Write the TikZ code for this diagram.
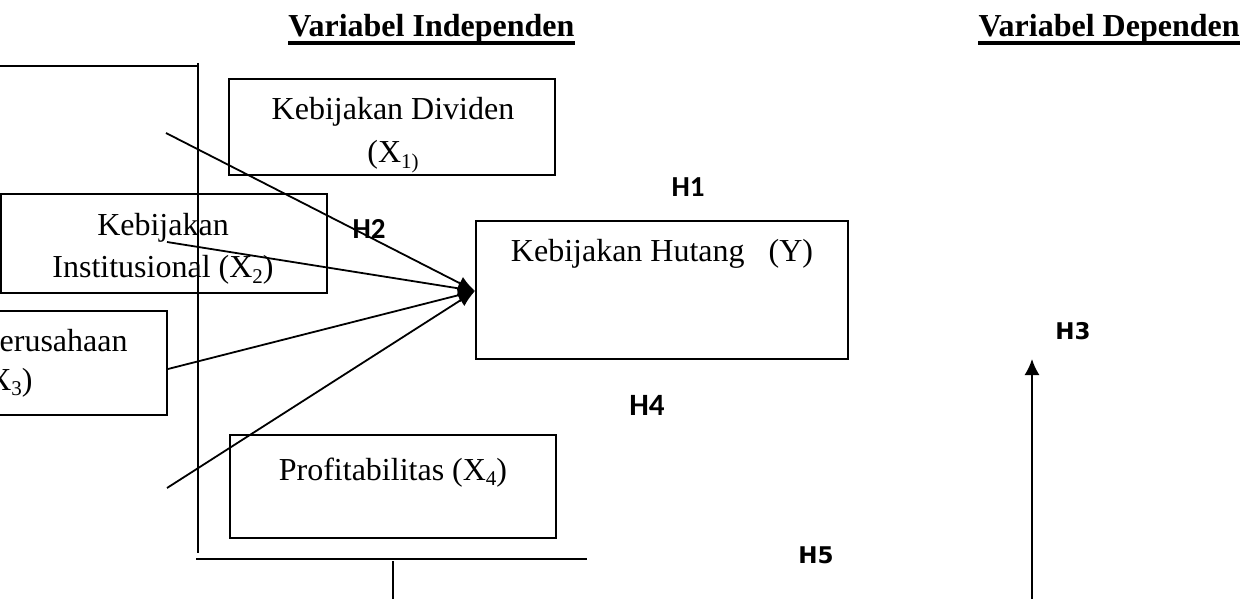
\documentclass[tikz,border=0pt]{standalone}
\usepackage{fontspec}
\setmainfont{Liberation Serif}
\newfontfamily\calfont{Carlito}
\newfontfamily\vfont{DejaVu Sans}
\usetikzlibrary{arrows.meta,calc}
\newcommand\mysub[1]{\raisebox{-0.18em}{\fontsize{10.5}{12}\selectfont #1}}
\begin{document}
\begin{tikzpicture}[x=0.5pt,y=-0.5pt,
  box/.style={draw, line width=1pt, inner sep=0pt, rectangle},
  txt/.style={anchor=base, inner sep=0pt, font=\fontsize{16}{19}\selectfont},
  head/.style={inner sep=0pt, font=\fontsize{16}{19}\selectfont\bfseries},
  hyp/.style={inner sep=0pt, font=\calfont\bfseries\fontsize{14.5}{16}\selectfont},
  hypb/.style={inner sep=0pt, font=\vfont\bfseries\fontsize{11.5}{13}\selectfont},
  conn/.style={line width=0.9pt, -{Latex[length=8.5pt,width=7pt]}},
  rulel/.style={line width=0.9pt}]
\useasboundingbox (0,0) rectangle (1244,599);
\clip (0,0) rectangle (1244,599);

% headings
\node[head, anchor=base west] (hi) at (288,37) {Variabel Independen};
\node[head, anchor=base east] (hd) at (1240,37) {Variabel Dependen};
\draw[line width=1.7pt] ($(hi.base west)+(0,6)$) -- ($(hi.base east)+(0,6)$);
\draw[line width=1.7pt] ($(hd.base west)+(0,6)$) -- ($(hd.base east)+(0,6)$);

% boxes
\node[box, minimum width=163pt, minimum height=48pt] (x1) at (392,127) {};
\node[box, minimum width=163pt, minimum height=49.5pt] (x2) at (164,243.5) {};
\node[box, minimum width=163pt, minimum height=52pt] (x3) at (4,363) {};
\node[box, minimum width=186pt, minimum height=69pt] (y) at (662,290) {};
\node[box, minimum width=163pt, minimum height=51.5pt] (x4) at (393,486.5) {};

% texts
\node[txt] (x1a) at (393,120) {Kebijakan Dividen};
\node[txt] (x1b) at (393,163) {(X\mysub{1)}};
\node[txt] (x2a) at (163,235) {Kebijakan};
\node[txt] (x2b) at (163,278) {Institusional (X\mysub{2})};
\node[txt, anchor=base east] (x3a) at (128,351) {erusahaan};
\node[txt, anchor=base east] (x3b) at (33,390) {X\mysub{3})};
\node[txt] (ya) at (662,262) {Kebijakan Hutang~~~(Y)};
\node[txt] (x4a) at (393,480) {Profitabilitas (X\mysub{4})};

% hypothesis labels
\node[hyp] (h1) at (688,187) {H1};
\node[hyp] (h2) at (369,229) {H2};
\node[hypb] (h3) at (1073,331) {H3};
\node[hyp, font=\calfont\bfseries\fontsize{15.5}{17}\selectfont] (h4) at (647,405) {H4};
\node[hypb] (h5) at (816,555) {H5};

% frame lines
\coordinate (t0) at (0,66);
\coordinate (t1) at (197,66);
\coordinate (v0) at (198,63);
\coordinate (v1) at (198,553);
\coordinate (b0) at (196,559);
\coordinate (b1) at (587,559);
\coordinate (c0) at (393,561);
\coordinate (c1) at (393,599);
\draw[rulel] (t0) -- (t1);
\draw[rulel] (v0) -- (v1);
\draw[line width=1.1pt] (b0) -- (b1);
\draw[rulel] (c0) -- (c1);

% connectors
\coordinate (s1) at (166,133);
\coordinate (s2) at (167,242);
\coordinate (s3) at (168,369);
\coordinate (s4) at (167,488);
\coordinate (tg) at (475,291);
\draw[conn] (s1) -- (tg);
\draw[conn] (s2) -- (tg);
\draw[conn] (s3) -- (tg);
\draw[conn] (s4) -- (tg);

\coordinate (a0) at (1032,599);
\coordinate (a1) at (1032,359);
\draw[line width=0.9pt, -{Latex[length=8pt,width=7.5pt]}] (a0) -- (a1);
\end{tikzpicture}
\end{document}
